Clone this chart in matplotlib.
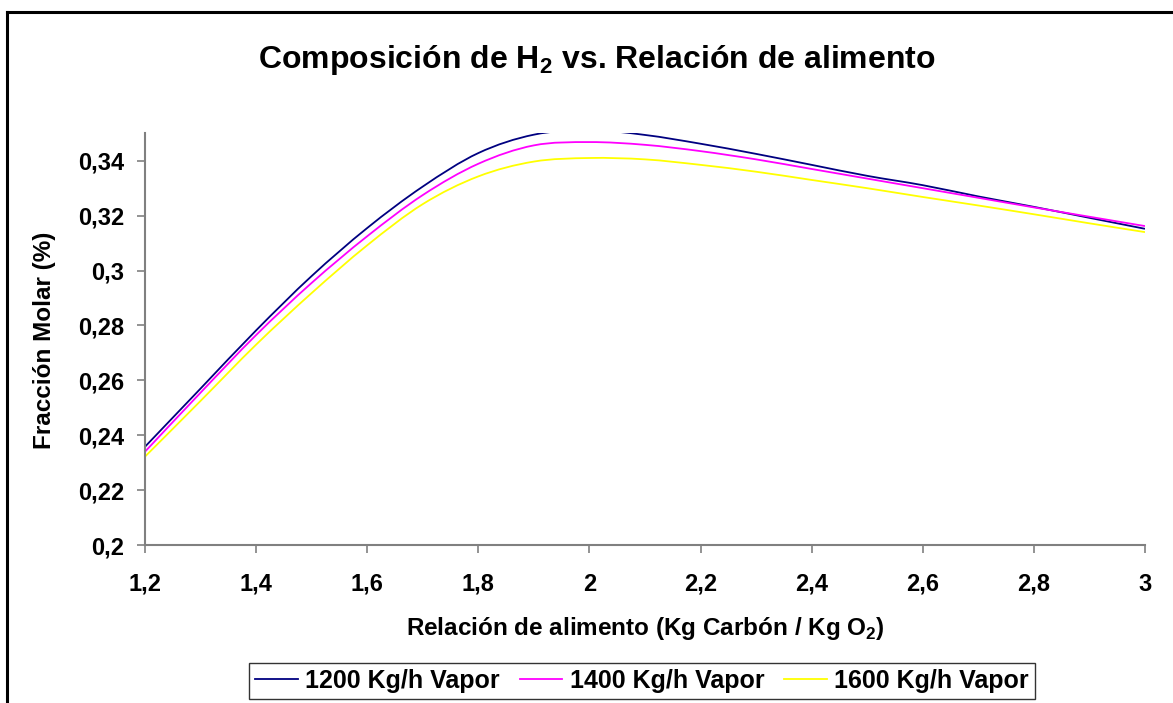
import matplotlib
matplotlib.use("Agg")
import matplotlib.pyplot as plt
from matplotlib.lines import Line2D
from matplotlib.path import Path
from matplotlib.patches import PathPatch
from matplotlib.ticker import FixedLocator, FixedFormatter

plt.rcParams['font.family'] = ['Liberation Sans', 'DejaVu Sans']
plt.rcParams['mathtext.fontset'] = 'custom'
plt.rcParams['mathtext.rm'] = 'Liberation Sans'
plt.rcParams['mathtext.bf'] = 'Liberation Sans:bold'

# Data
x_vals = [1.2, 1.3, 1.4, 1.5, 1.6, 1.7, 1.8, 1.9, 2.0, 2.1,
          2.2, 2.3, 2.4, 2.5, 2.6, 2.7, 2.8, 2.9, 3.0]
vapor_1200 = [0.2358, 0.2570, 0.2782, 0.2980, 0.3155, 0.3306, 0.3428, 0.3495, 0.3512, 0.3494,
              0.3462, 0.3425, 0.3385, 0.3345, 0.3311, 0.3270, 0.3232, 0.3192, 0.3152]
vapor_1400 = [0.2340, 0.2555, 0.2765, 0.2955, 0.3125, 0.3275, 0.3389, 0.3456, 0.3468, 0.3458,
              0.3435, 0.3405, 0.3370, 0.3335, 0.3300, 0.3265, 0.3230, 0.3196, 0.3162]
vapor_1600 = [0.2322, 0.2525, 0.2730, 0.2918, 0.3092, 0.3242, 0.3343, 0.3397, 0.3410, 0.3405,
              0.3385, 0.3360, 0.3330, 0.3300, 0.3268, 0.3237, 0.3205, 0.3172, 0.3140]
series_labels = ['1200 Kg/h Vapor', '1400 Kg/h Vapor', '1600 Kg/h Vapor']
series_colors = ['#000080', '#FF00FF', '#FFFF00']

x_ticks = [1.2, 1.4, 1.6, 1.8, 2.0, 2.2, 2.4, 2.6, 2.8, 3.0]
x_tick_labels = ['1,2', '1,4', '1,6', '1,8', '2', '2,2', '2,4', '2,6', '2,8', '3']
y_ticks = [0.20, 0.22, 0.24, 0.26, 0.28, 0.30, 0.32, 0.34]
y_tick_labels = ['0,2', '0,22', '0,24', '0,26', '0,28', '0,3', '0,32', '0,34']


def smooth_path(xs, ys):
    """Excel-style smoothed line: cubic Bezier segments through every point."""
    n = len(xs)
    verts = [(xs[0], ys[0])]
    codes = [Path.MOVETO]
    for i in range(n - 1):
        i0 = max(i - 1, 0)
        i3 = min(i + 2, n - 1)
        c1 = (xs[i] + (xs[i + 1] - xs[i0]) / 6.0, ys[i] + (ys[i + 1] - ys[i0]) / 6.0)
        c2 = (xs[i + 1] - (xs[i3] - xs[i]) / 6.0, ys[i + 1] - (ys[i3] - ys[i]) / 6.0)
        verts += [c1, c2, (xs[i + 1], ys[i + 1])]
        codes += [Path.CURVE4, Path.CURVE4, Path.CURVE4]
    return Path(verts, codes)


W, H = 1173, 703
fig = plt.figure(figsize=(W / 100, H / 100), dpi=100)
ax = fig.add_axes([145 / W, 1 - 545 / H, 1000 / W, (545 - 133.3) / H])

handles = []
for ys, lab, col in zip([vapor_1200, vapor_1400, vapor_1600], series_labels, series_colors):
    patch = PathPatch(smooth_path(x_vals, ys), facecolor='none', edgecolor=col, lw=1.3)
    ax.add_patch(patch)
    handles.append(Line2D([], [], color=col, lw=1.3, label=lab))

ax.set_xlim(1.2, 3.0)
ax.set_ylim(0.2, 0.35)
ax.xaxis.set_major_locator(FixedLocator(x_ticks))
ax.xaxis.set_major_formatter(FixedFormatter(x_tick_labels))
ax.yaxis.set_major_locator(FixedLocator(y_ticks))
ax.yaxis.set_major_formatter(FixedFormatter(y_tick_labels))

for s in ['top', 'right']:
    ax.spines[s].set_visible(False)
for s in ['left', 'bottom']:
    ax.spines[s].set_color('#808080')
    ax.spines[s].set_linewidth(1.5)

ax.tick_params(axis='x', direction='out', length=6, width=1.2, color='#808080',
               pad=14, labelsize=17)
ax.tick_params(axis='y', direction='out', length=6, width=1.2, color='#808080',
               pad=9, labelsize=17)
for lbl in ax.get_xticklabels() + ax.get_yticklabels():
    lbl.set_fontweight('bold')

fig.text(597 / W, 1 - 60 / H, r'Composición de H$_\mathbf{2}$ vs. Relación de alimento',
         ha='center', va='center', fontsize=23, fontweight='bold')
fig.text(645 / W, 1 - 628 / H, r'Relación de alimento (Kg Carbón / Kg O$_\mathbf{2}$)',
         ha='center', va='center', fontsize=17.5, fontweight='bold')
fig.text(45 / W, 1 - 340 / H, 'Fracción Molar (%)', rotation=90,
         ha='center', va='center', fontsize=17.5, fontweight='bold')

leg = fig.legend(handles=handles, loc='center', bbox_to_anchor=(642 / W, 1 - 681 / H), ncol=3,
                 frameon=True, fancybox=False, edgecolor='black',
                 prop={'weight': 'bold', 'size': 18}, handlelength=1.7,
                 handletextpad=0.3, columnspacing=0.8, borderpad=0.25,
                 borderaxespad=0)
leg.get_frame().set_linewidth(1.0)

# Outer chart frame (left and top edges visible)
fig.add_artist(Line2D([7 / W, 7 / W], [0, 1 - 12 / H], transform=fig.transFigure,
                      color='black', lw=2.2))
fig.add_artist(Line2D([7 / W, 1], [1 - 12 / H, 1 - 12 / H], transform=fig.transFigure,
                      color='black', lw=2.2))

fig.savefig('out.png', dpi=100, facecolor='white')
